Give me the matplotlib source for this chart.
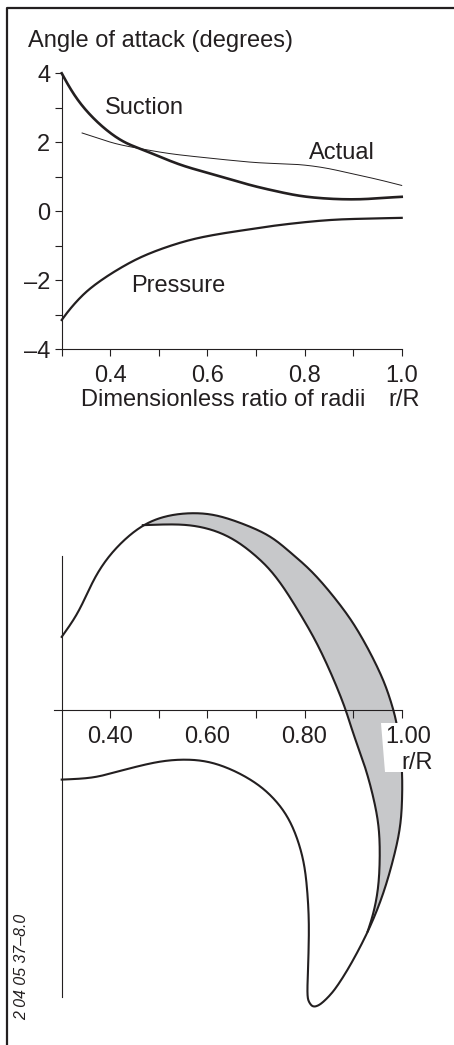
import numpy as np
import matplotlib
matplotlib.use("Agg")
import matplotlib.pyplot as plt
from matplotlib.lines import Line2D
from matplotlib.patches import Polygon

plt.rcParams['font.family'] = ['Liberation Sans', 'DejaVu Sans']

W, H = 454, 1045
ink = '#231f20'

# angle of attack chart
suction_x = [.300, .317, .338, .365, .396, .430, .468, .509, .550, .599, .647, .688, .736, .784, .825, .873, .921, .962, 1.0]
suction_y = [4.0, 3.57, 3.13, 2.70, 2.31, 1.99, 1.78, 1.54, 1.32, 1.12, .93, .76, .60, .46, .39, .35, .35, .39, .42]
actual_x = [.342, .379, .413, .468, .523, .585, .647, .701, .749, .794, .846, .894, .949, 1.0]
actual_y = [2.27, 2.10, 1.95, 1.80, 1.67, 1.57, 1.48, 1.41, 1.38, 1.35, 1.25, 1.10, .93, .75]
pressure_x = [.300, .317, .348, .382, .420, .461, .509, .564, .619, .688, .736, .804, .866, .935, 1.0]
pressure_y = [-3.15, -2.83, -2.36, -1.99, -1.65, -1.34, -1.07, -.83, -.67, -.52, -.42, -.31, -.24, -.21, -.19]
x_ticks = [.3, .4, .5, .6, .7, .8, .9, 1.0]
x_labels = ['', '0.4', '', '0.6', '', '0.8', '', '1.0']
y_ticks = [-4, -3, -2, -1, 0, 1, 2, 3, 4]
y_labels = ['\u20134', '', '\u20132', '', '0', '', '2', '', '4']

# blade outline, r/R against chord position
outline_x = [.300, .329, .348, .369, .396, .430, .467, .502, .537, .571, .612, .667, .729, .770, .811, .852, .894, .921, .942, .966,
             .983, .990, 1.0, 1.001, .997, .983, .962, .935, .900, .866, .839, .821, .811, .806, .808, .809, .806, .799, .784, .767,
             .749, .715, .667, .612, .564, .509, .454, .406, .365, .300]
outline_y = [2.03, 2.59, 3.10, 3.70, 4.25, 4.74, 5.13, 5.34, 5.44, 5.47, 5.43, 5.20, 4.83, 4.38, 3.90, 3.28, 2.54, 1.94, 1.41, .71,
             0, -.37, -1.50, -2.40, -3.24, -4.12, -5.09, -6.01, -6.94, -7.68, -8.09, -8.23, -8.14, -7.86, -6.84, -5.92, -5.09, -4.25, -3.52, -3.00,
             -2.64, -2.17, -1.76, -1.46, -1.37, -1.41, -1.57, -1.74, -1.88, -1.93]
inner_x = [.467, .509, .550, .585, .626, .667, .708, .729, .756, .780, .801, .822, .842, .863, .885, .900, .921, .938, .952, .955, .952, .942, .930]
inner_y = [5.13, 5.15, 5.15, 5.09, 4.93, 4.63, 4.18, 3.90, 3.42, 2.91, 2.44, 1.94, 1.39, .75, 0, -.65, -1.43, -2.22, -3.14, -3.98, -4.90, -5.64, -6.14]
blade_ticks = [.4, .5, .6, .7, .8, .9, 1.0]
blade_labels = ['0.40', '', '0.60', '', '0.80', '', '']


def catmull(xs, ys, n=12):
    p = np.column_stack([xs, ys])
    p = np.vstack([p[0], p, p[-1]])
    out = []
    for i in range(1, len(p) - 2):
        for t in np.linspace(0, 1, n, endpoint=False):
            out.append(0.5 * (2 * p[i] + (p[i + 1] - p[i - 1]) * t
                              + (2 * p[i - 1] - 5 * p[i] + 4 * p[i + 1] - p[i + 2]) * t ** 2
                              + (3 * p[i] - p[i - 1] - 3 * p[i + 1] + p[i + 2]) * t ** 3))
    out.append(p[-1])
    return np.array(out)


def gauss(q, sigma):
    # q is evenly spaced at 1 px; mirror through the end points so they stay put
    m = int(4 * sigma)
    kernel = np.exp(-0.5 * (np.arange(-m, m + 1) / sigma) ** 2)
    kernel /= kernel.sum()
    res = np.zeros_like(q)
    for c in range(2):
        v = q[:, c]
        pad = np.r_[2 * v[0] - v[1:m + 1][::-1], v, 2 * v[-1] - v[-m - 1:-1][::-1]]
        res[:, c] = np.convolve(pad, kernel, mode='valid')
    return res


def smooth(xs, ys, sx, sy, sigma=10, tip=None):
    # take the reading wobble out of the hand-read points, in pixel space
    d = catmull(xs, ys) * [sx, sy]
    s = np.r_[0, np.cumsum(np.hypot(*np.diff(d, axis=0).T))]
    t = np.arange(0, s[-1], 1.0)
    q = np.column_stack([np.interp(t, s, d[:, 0]), np.interp(t, s, d[:, 1])])
    q = np.vstack([q, d[-1]])
    res = gauss(q, sigma)
    if tip is not None:
        # keep the tight turn at the blade tip
        dist = np.hypot(*(q - np.array(tip) * [sx, sy]).T)
        w = np.clip((dist - 25) / 40, 0, 1)[:, None]
        res = w * res + (1 - w) * gauss(q, 1.5)
    return res[:, 0] / sx, res[:, 1] / sy


def axes_px(left, top, right, bottom):
    return fig.add_axes([left / W, 1 - bottom / H, (right - left) / W, (bottom - top) / H])


fig = plt.figure(figsize=(W / 100, H / 100), dpi=100)
fs = 17
sx = 340 / .7

# frame
fig.add_artist(Line2D([6.7 / W, 6.7 / W, 1], [0, 1 - 7.5 / H, 1 - 7.5 / H], color=ink, lw=1.6))

ax = axes_px(61.7, 73.3, 401.7, 349.3)
ax.set_xlim(.3, 1.0)
ax.set_ylim(-4, 4)
ax.patch.set_visible(False)
for s in ['top', 'right']:
    ax.spines[s].set_visible(False)
for s in ['left', 'bottom']:
    ax.spines[s].set_linewidth(.8)
    ax.spines[s].set_color(ink)
ax.set_xticks(x_ticks, x_labels)
ax.set_yticks(y_ticks, y_labels)
ax.tick_params(axis='x', direction='out', length=4.7, width=.8, color=ink, labelsize=fs, labelcolor=ink, pad=6.4)
ax.tick_params(axis='y', direction='out', length=4.7, width=.8, color=ink, labelsize=fs, labelcolor=ink, pad=3.5)
ax.plot(*smooth(suction_x, suction_y, sx, 34.5, sigma=7), color=ink, lw=1.9, clip_on=False)
ax.plot(*smooth(actual_x, actual_y, sx, 34.5, sigma=7), color=ink, lw=.7, clip_on=False)
ax.plot(*smooth(pressure_x, pressure_y, sx, 34.5, sigma=7), color=ink, lw=1.6, clip_on=False)
ax.text(.389, 2.99, 'Suction', fontsize=fs, color=ink, va='center')
ax.text(.810, 1.70, 'Actual', fontsize=fs, color=ink, va='center')
ax.text(.442, -2.16, 'Pressure', fontsize=fs, color=ink, va='center')
fig.text(28.5 / W, 1 - 41.5 / H, 'Angle of attack (degrees)', fontsize=fs, color=ink, va='center')
fig.text(81 / W, 1 - 400 / H, 'Dimensionless ratio of radii', fontsize=fs, color=ink, va='center')
fig.text(388 / W, 1 - 400 / H, 'r/R', fontsize=fs, color=ink, va='center')

# blade chart
bx = axes_px(61.7, 493.8, 401.7, 1034.4)
bx.set_xlim(.3, 1.0)
bx.set_ylim(-9, 6)
bx.patch.set_visible(False)
for s in ['top', 'right']:
    bx.spines[s].set_visible(False)
bx.spines['left'].set_bounds(-7.95, 4.27)
bx.spines['left'].set_linewidth(.8)
bx.spines['left'].set_color(ink)
bx.spines['bottom'].set_position(('data', 0))
bx.spines['bottom'].set_bounds(.284, 1.0)
bx.spines['bottom'].set_linewidth(.8)
bx.spines['bottom'].set_color(ink)
bx.set_yticks([])
bx.set_xticks(blade_ticks, blade_labels)
bx.tick_params(axis='x', direction='out', length=5.8, width=.8, color=ink, labelsize=fs, labelcolor=ink, pad=5.5)

ox, oy = smooth(outline_x, outline_y, sx, 36.04, sigma=10, tip=(.821, -8.23))
ix, iy = smooth(inner_x, inner_y, sx, 36.04, sigma=10)
# shaded band: outline from the join at top round to the lower join, back along the inner curve
start = np.argmin(np.hypot((ox - inner_x[0]) * sx, (oy - inner_y[0]) * 36.04))
end = np.argmin(np.hypot((ox - ix[-1]) * sx, (oy - iy[-1]) * 36.04))
band = np.vstack([np.column_stack([ox[start:end + 1], oy[start:end + 1]]), np.column_stack([ix[::-1], iy[::-1]])])
bx.add_patch(Polygon(band, closed=True, facecolor='#c7c8ca', edgecolor='none', clip_on=False, zorder=1))
bx.plot(ox, oy, color=ink, lw=1.5, clip_on=False, zorder=2)
bx.plot(ix, iy, color=ink, lw=1.5, clip_on=False, zorder=2)
# white patch behind the 1.00 and r/R labels, it cuts the blade
bx.add_patch(Polygon([(.958, -.37), (1.002, -.37), (1.002, -1.71), (.965, -1.71)], closed=True,
                     facecolor='white', edgecolor='none', clip_on=False, zorder=3))
for t in bx.get_xticklabels():
    t.set_zorder(5)
bx.text(1.0135, -.76, '1.00', fontsize=fs, color=ink, ha='center', va='center', zorder=5, clip_on=False)
bx.text(1.0, -1.48, 'r/R', fontsize=fs, color=ink, ha='left', va='center', zorder=5, clip_on=False)

fig.text(21.7 / W, 1 - 1020 / H, '2 04 05 37\u20138.0', fontsize=11.4, color=ink, rotation=90, style='italic', ha='center', va='bottom')

fig.savefig('out.png', dpi=100)
